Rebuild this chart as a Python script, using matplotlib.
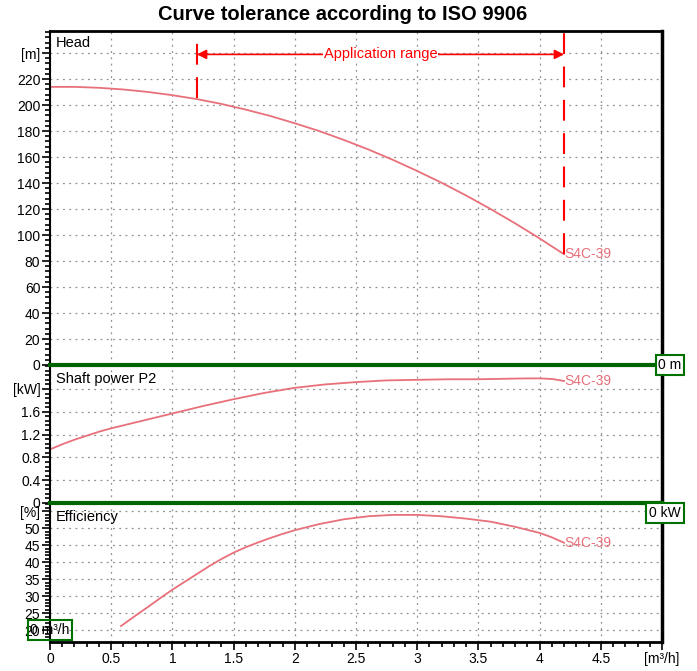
import matplotlib
matplotlib.use("Agg")
import matplotlib.pyplot as plt
from matplotlib.ticker import FixedLocator, MultipleLocator

plt.rcParams['font.family'] = ['Liberation Sans', 'DejaVu Sans']
plt.rcParams['font.size'] = 10

# curve readings, flow in m3/h
q_head = [0, 0.2, 0.4, 0.6, 0.8, 1.0, 1.2, 1.4, 1.6, 1.8, 2.0, 2.2, 2.4, 2.6, 2.8, 3.0, 3.2, 3.4, 3.6, 3.8, 4.0, 4.2]
head = [214.0, 214.0, 213.3, 212.0, 210.1, 207.6, 204.6, 200.9, 196.5, 191.6, 186.0, 180.0, 173.2,
        165.9, 157.9, 149.3, 140.2, 130.4, 120.0, 109.0, 97.4, 85.2]

q_power = [0, 0.1, 0.2, 0.3, 0.4, 0.5, 0.75, 1.0, 1.25, 1.5, 1.75, 2.0, 2.25, 2.5, 2.75, 3.0, 3.25,
           3.5, 3.75, 3.9, 4.0, 4.1, 4.2]
power = [0.94, 1.03, 1.11, 1.18, 1.25, 1.31, 1.44, 1.57, 1.70, 1.82, 1.93, 2.02, 2.08, 2.12, 2.15,
         2.16, 2.17, 2.17, 2.18, 2.185, 2.185, 2.175, 2.14]

q_eff = [0.58, 0.7, 0.8, 0.9, 1.0, 1.1, 1.2, 1.3, 1.4, 1.5, 1.6, 1.7, 1.8, 1.9, 2.0, 2.2, 2.4, 2.6,
         2.8, 3.0, 3.2, 3.4, 3.6, 3.8, 4.0, 4.1, 4.2]
eff = [21.2, 24.3, 26.8, 29.4, 31.9, 34.2, 36.5, 38.8, 40.9, 42.8, 44.4, 45.8, 47.1, 48.3, 49.4,
       51.2, 52.6, 53.5, 53.9, 53.9, 53.5, 52.8, 51.9, 50.4, 48.6, 47.3, 45.7]

app_range = [1.2, 4.2]
pump_name = "S4C-39"

x_ticks = [0, 0.5, 1, 1.5, 2, 2.5, 3, 3.5, 4, 4.5, 5]
x_labels = ['0', '0.5', '1', '1.5', '2', '2.5', '3', '3.5', '4', '4.5', '[m³/h]']
head_ticks = [0, 20, 40, 60, 80, 100, 120, 140, 160, 180, 200, 220, 240]
head_labels = [str(t) for t in head_ticks[:-1]] + ['[m]']
power_ticks = [0, 0.4, 0.8, 1.2, 1.6, 2.0]
power_labels = ['0', '0.4', '0.8', '1.2', '1.6', '[kW]']
eff_ticks = [20, 25, 30, 35, 40, 45, 50, 55]
eff_labels = [str(t) for t in eff_ticks[:-1]] + ['[%]']

curve_color = '#e8707a'
grid_kw = dict(color='#909090', linestyle=(0, (1.5, 3.5)), linewidth=0.9)

fig = plt.figure(figsize=(6.97, 6.71), dpi=100)
left, width = 50 / 697, 612 / 697
ax_h = fig.add_axes([left, 1 - 365 / 671, width, 334 / 671])
ax_p = fig.add_axes([left, 1 - 503 / 671, width, 138 / 671], sharex=ax_h)
ax_e = fig.add_axes([left, 1 - 642 / 671, width, 139 / 671], sharex=ax_h)

fig.text(0.492, 1 - 15 / 671, "Curve tolerance according to ISO 9906",
         ha='center', va='center', fontsize=14.5, fontweight='bold')


def style(ax, ticks, labels, minor):
    ax.yaxis.set_major_locator(FixedLocator(ticks))
    ax.set_yticklabels(labels)
    ax.yaxis.set_minor_locator(MultipleLocator(minor))
    ax.xaxis.set_major_locator(FixedLocator(x_ticks))
    ax.xaxis.set_minor_locator(MultipleLocator(0.1))
    ax.tick_params(axis='both', which='major', direction='out', length=6, width=1.2, pad=1)
    ax.tick_params(axis='both', which='minor', direction='out', length=3.5, width=1.2)
    ax.grid(True, which='major', **grid_kw)
    for s in ax.spines.values():
        s.set_color('black')
        s.set_linewidth(1.5)
    ax.spines['right'].set_linewidth(2.5)


style(ax_h, head_ticks, head_labels, 4)
style(ax_p, power_ticks, power_labels, 0.08)
style(ax_e, eff_ticks, eff_labels, 1)

ax_h.set_xlim(0, 5.0)
ax_h.set_ylim(0, 257)
ax_p.set_ylim(0, 2.42)
ax_e.set_ylim(16.5, 57.4)

for ax in (ax_h, ax_p):
    ax.tick_params(axis='x', which='both', length=0, labelbottom=False)
ax_e.set_xticklabels(x_labels)

ax_h.spines['top'].set_linewidth(2)
ax_h.spines['bottom'].set_color('#909090')
ax_h.spines['bottom'].set_linewidth(1)
for ax in (ax_p, ax_e):
    ax.spines['top'].set_color('#006400')
    ax.spines['top'].set_linewidth(3)
ax_p.spines['bottom'].set_visible(False)
ax_e.spines['bottom'].set_linewidth(2)

# curves
ax_h.plot(q_head, head, color=curve_color, lw=1.3)
ax_p.plot(q_power, power, color=curve_color, lw=1.3)
ax_e.plot(q_eff, eff, color=curve_color, lw=1.3)
ax_h.text(q_head[-1], head[-1], pump_name, color=curve_color, va='center', ha='left', fontsize=10)
ax_p.text(q_power[-1], power[-1], pump_name, color=curve_color, va='center', ha='left', fontsize=10)
ax_e.text(q_eff[-1], eff[-1], pump_name, color=curve_color, va='center', ha='left', fontsize=10)

# application range
ax_h.plot([app_range[0]] * 2, [head[6] + 1, 257], color='red', lw=1.5, ls=(0, (10, 6)))
ax_h.plot([app_range[1]] * 2, [head[-1], 257], color='red', lw=1.5, ls=(0, (10, 6)))
ax_h.annotate('', xy=(app_range[0], 239), xytext=(app_range[1], 239),
              arrowprops=dict(arrowstyle='<|-|>', color='red', lw=1.2,
                              shrinkA=0, shrinkB=0, mutation_scale=14))
ax_h.text(sum(app_range) / 2, 239, 'Application range', color='red', ha='center',
          va='center', fontsize=10.5, bbox=dict(facecolor='white', edgecolor='none', pad=0.5))

# panel names
ax_h.text(0.01, 0.985, 'Head', transform=ax_h.transAxes, va='top', ha='left', fontsize=10.5)
ax_p.text(0.01, 0.95, 'Shaft power P2', transform=ax_p.transAxes, va='top', ha='left', fontsize=10.5)
ax_e.text(0.01, 0.95, 'Efficiency', transform=ax_e.transAxes, va='top', ha='left', fontsize=10.5)

# boxed readouts
box = dict(facecolor='white', edgecolor='#007000', lw=1.5, boxstyle='square,pad=0.2')
fig.text(670 / 697, 1 - 365 / 671, '0 m', ha='center', va='center', bbox=box)
fig.text(665 / 697, 1 - 513 / 671, '0 kW', ha='center', va='center', bbox=box)
box2 = dict(facecolor='none', edgecolor='#007000', lw=1.5, boxstyle='square,pad=0.2')
fig.text(50 / 697, 1 - 630 / 671, '0 m³/h', ha='center', va='center', bbox=box2)

fig.savefig('out.png', dpi=100)
